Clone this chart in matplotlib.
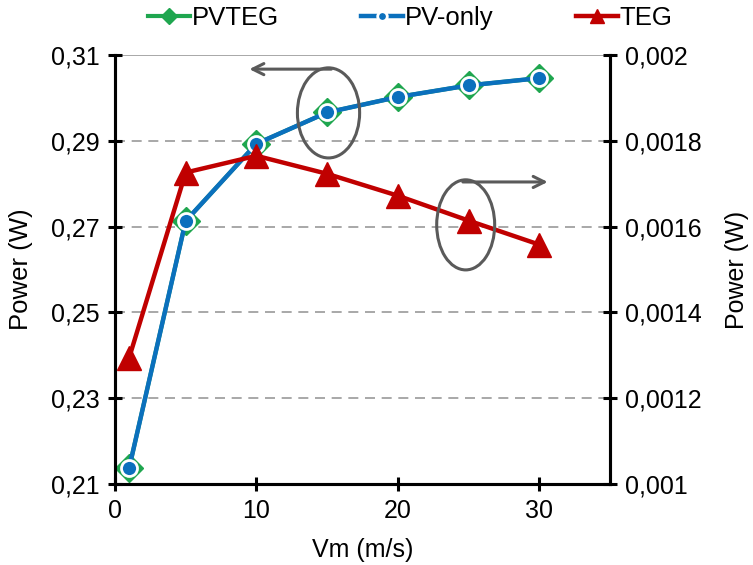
import numpy as np
import matplotlib.pyplot as plt
from matplotlib.patches import Ellipse

plt.rcParams["font.family"] = ["Liberation Sans", "DejaVu Sans"]

vm = [1, 5, 10, 15, 20, 25, 30]
pvteg = [0.2137, 0.2713, 0.2893, 0.2966, 0.3002, 0.3029, 0.3046]
pv_only = [0.2137, 0.2713, 0.2893, 0.2966, 0.3002, 0.3029, 0.3046]
teg = [0.001294, 0.001726, 0.001765, 0.001723, 0.001672, 0.001614, 0.001558]

left_ticks = [0.21, 0.23, 0.25, 0.27, 0.29, 0.31]
right_ticks = [0.001, 0.0012, 0.0014, 0.0016, 0.0018, 0.002]
x_ticks = [0, 10, 20, 30]

green = "#1FA64F"
blue = "#0B70BD"
red = "#C00000"
grey = "#5A5A5A"

fig = plt.figure(figsize=(7.53, 5.65), dpi=100)
ax = fig.add_axes([0.1527, 0.1434, 0.8100 - 0.1527, 0.9027 - 0.1434])
ax2 = ax.twinx()

for y in left_ticks[1:-1]:
    ax.axhline(y, color="#999999", lw=1.2, ls=(0, (6, 4)), zorder=0)
ax.axhline(0.31, color="#999999", lw=1.2, zorder=0)

ax.plot(vm, pvteg, color=green, lw=3, marker="D", ms=14, mfc=green, mec=green,
        label="PVTEG", zorder=3)
ax.plot(vm, pv_only, color=blue, lw=3.2, marker="o", ms=11.5, mfc=blue, mec="white",
        mew=2, label="PV-only", zorder=4)
ax2.plot(vm, teg, color=red, lw=3.2, marker="^", ms=17, mfc=red, mec=red,
         label="TEG", zorder=3)

ax.set_xlim(0, 35)
ax.set_ylim(0.21, 0.31)
ax2.set_ylim(0.001, 0.002)
ax.set_xticks(x_ticks)
ax.set_yticks(left_ticks)
ax2.set_yticks(right_ticks)
ax.set_yticklabels([f"{v:.2f}".replace(".", ",") for v in left_ticks])
ax2.set_yticklabels(["0,001", "0,0012", "0,0014", "0,0016", "0,0018", "0,002"])

for a in (ax, ax2):
    a.tick_params(direction="inout", length=10, width=2.2, labelsize=18, pad=6)
    for s in a.spines.values():
        s.set_linewidth(2.2)
    a.spines["top"].set_visible(False)

ax.set_xlabel("Vm (m/s)", fontsize=18)
ax.xaxis.set_label_coords(0.5, -0.125)
ax.set_ylabel("Power (W)", fontsize=18.5)
ax.yaxis.set_label_coords(-0.166, 0.5)
ax2.set_ylabel("Power (W)", fontsize=18)
ax2.yaxis.set_label_coords(1.232, 0.5)

# ellipses with arrows pointing to their axis
ax2.add_patch(Ellipse((15.1, 0.2965), 4.4, 0.021, transform=ax.transData,
                      fill=False, ec=grey, lw=2.2, zorder=5))
ax2.add_patch(Ellipse((24.8, 0.2704), 4.1, 0.021, transform=ax.transData,
                      fill=False, ec=grey, lw=2.2, zorder=5))
ax2.annotate("", xy=(9.5, 0.3067), xytext=(15.3, 0.3067),
             xycoords=ax.transData, textcoords=ax.transData,
             arrowprops=dict(arrowstyle="->,head_length=0.8,head_width=0.4",
                             color=grey, lw=2.2, shrinkA=0, shrinkB=0), zorder=5)
ax2.annotate("", xy=(30.6, 0.2804), xytext=(24.6, 0.2804),
             xycoords=ax.transData, textcoords=ax.transData,
             arrowprops=dict(arrowstyle="->,head_length=0.8,head_width=0.4",
                             color=grey, lw=2.2, shrinkA=0, shrinkB=0), zorder=5)

h1, l1 = ax.get_legend_handles_labels()
h2, l2 = ax2.get_legend_handles_labels()
fig.legend(h1 + h2, l1 + l2, loc="center", bbox_to_anchor=(410 / 753, 1 - 18 / 565),
           ncol=3, frameon=False, fontsize=18.5, handlelength=1.65,
           handletextpad=0.05, columnspacing=3.2, markerscale=0.6,
           borderpad=0, borderaxespad=0)

fig.savefig("out.png", dpi=100)
